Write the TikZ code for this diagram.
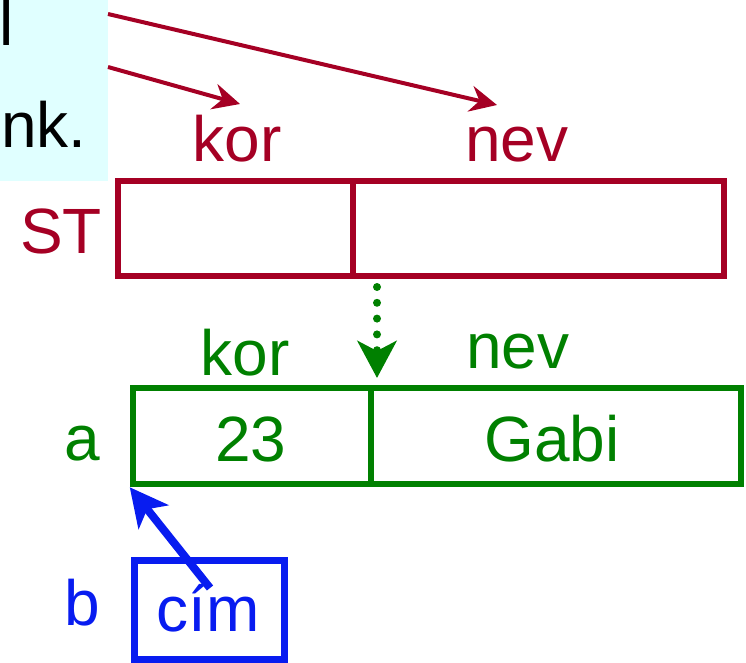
\documentclass[tikz,border=0pt]{standalone}
\usepackage{fontspec}
\setmainfont{Liberation Sans}
\usetikzlibrary{arrows.meta}

\definecolor{stred}{RGB}{165,0,36}
\definecolor{objgreen}{RGB}{0,128,0}
\definecolor{refblue}{RGB}{8,28,240}
\definecolor{notecyan}{RGB}{224,255,255}

\tikzset{
  lbl/.style={inner sep=0pt, anchor=base, font=\fontsize{64}{70}\selectfont},
  cell/.style={rectangle, draw, inner sep=0pt, line join=miter},
  redarrow/.style={stred, line width=4pt, -{Stealth[length=27pt, width=26pt, inset=9pt]}},
}

\begin{document}
\begin{tikzpicture}[x=1pt, y=-1pt]
  \useasboundingbox (0,0) rectangle (746,663);

  % note panel in the corner
  \fill[notecyan] (0,0) rectangle (108,181);
  \node[lbl, anchor=base west] (notel) at (-1,46) {l};
  \node[lbl, anchor=base west] (notenk) at (1,148) {nk.};

  % struct type ST
  \node[cell, stred, line width=6pt, minimum width=235pt, minimum height=95pt] (stkor) at (235.5,228.5) {};
  \node[cell, stred, line width=6pt, minimum width=371pt, minimum height=95pt] (stnev) at (538.5,228.5) {};
  \node[lbl, stred] (stname) at (61,253) {ST};
  \node[lbl, stred] (stkorlbl) at (237,162) {kor};
  \node[lbl, stred] (stnevlbl) at (517,162) {nev};

  % arrows from the note to the field names
  \coordinate (from1) at (108,14);
  \coordinate (to1) at (497,105);
  \coordinate (from2) at (108,67);
  \coordinate (to2) at (240,104);
  \draw[redarrow] (from1) -- (to1);
  \draw[redarrow] (from2) -- (to2);

  % variable a
  \node[cell, objgreen, line width=6.5pt, minimum width=238pt, minimum height=96pt] (akor) at (252,436) {};
  \node[cell, objgreen, line width=6.5pt, minimum width=370pt, minimum height=96pt] (anev) at (556,436) {};
  \node[lbl, objgreen] (aname) at (82,460) {a};
  \node[lbl, objgreen] (akorlbl) at (245,375) {kor};
  \node[lbl, objgreen] (anevlbl) at (518,368) {nev};
  \node[lbl, objgreen] (akorval) at (251,461) {23};
  \node[lbl, objgreen] (anevval) at (552,461) {Gabi};

  % instance-of arrow
  \coordinate (instfrom) at (377,287);
  \coordinate (instto) at (377,378);
  \draw[objgreen, line width=8pt, line cap=round, dash pattern=on 0pt off 15.8pt,
        -{Stealth[length=37pt, width=39pt, inset=10pt]}] (instfrom) -- (instto);

  % pointer b
  \node[cell, refblue, line width=7pt, minimum width=150pt, minimum height=99pt] (bbox) at (209,609.5) {};
  \node[lbl, refblue] (bname) at (82,625) {b};
  \node[lbl, refblue] (bval) at (208,631) {cím};
  \coordinate (ptrfrom) at (210,588);
  \draw[refblue, line width=8pt, -{Stealth[length=38pt, width=38pt, inset=10pt]}]
    (ptrfrom) -- (akor.south west);
\end{tikzpicture}
\end{document}
